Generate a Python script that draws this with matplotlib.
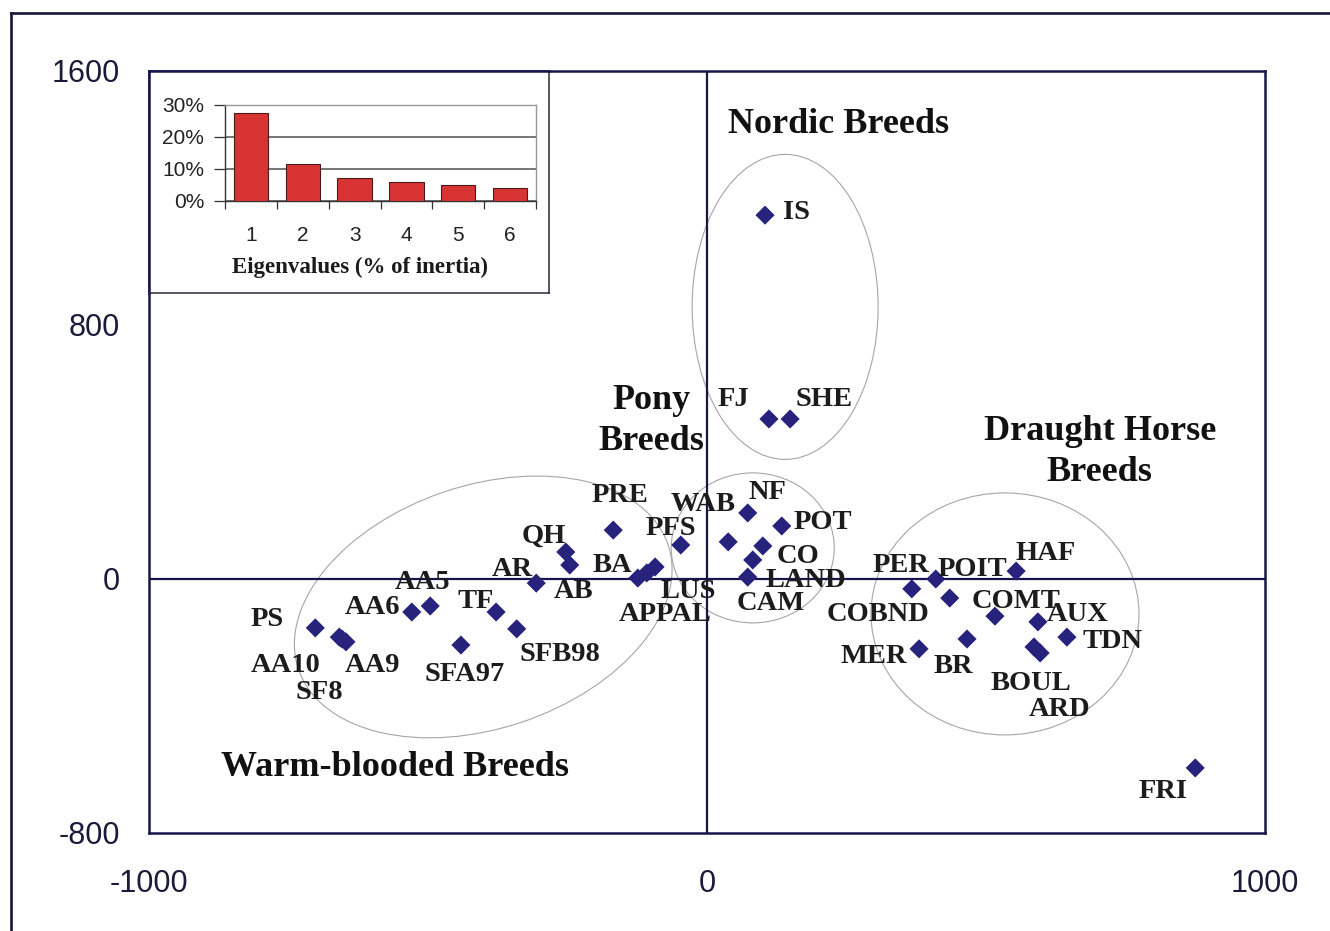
import matplotlib
matplotlib.use("Agg")
import matplotlib.pyplot as plt
import matplotlib.transforms as mtransforms
from matplotlib.patches import Ellipse
from matplotlib.lines import Line2D

# ---------------- data ----------------
breeds = ["IS", "FJ", "SHE", "NF", "POT", "WAB", "CO", "LAND", "CAM", "PFS",
          "PRE", "QH", "AB", "AR", "BA", "APPAL", "LUS", "AA5", "AA6", "TF",
          "SFB98", "SFA97", "PS", "AA10", "SF8", "AA9", "PER", "POIT", "COBND",
          "COMT", "HAF", "AUX", "TDN", "BOUL", "ARD", "BR", "MER", "FRI"]
axis1 = [104, 111, 149, 73, 134, 38, 100, 82, 73, -47,
         -168, -253, -246, -306, -124, -108, -93, -496, -529, -378,
         -341, -441, -702, -659, -654, -647, 367, 410, 435,
         516, 554, 593, 645, 586, 597, 466, 380, 875]
axis2 = [1146, 504, 504, 208, 167, 117, 104, 60, 6, 107,
         154, 85, 44, -13, 3, 19, 38, -85, -104, -104,
         -157, -208, -154, -183, -189, -198, -31, 0, -60,
         -117, 25, -135, -183, -214, -233, -189, -220, -595]

eig_rank = [1, 2, 3, 4, 5, 6]
eig_pct = [27.4, 11.5, 7.3, 5.8, 5.0, 4.2]

x_ticks = [-1000, 0, 1000]
y_ticks = [-800, 0, 800, 1600]
eig_yticks = [0, 10, 20, 30]

# label offsets (pixels) relative to each marker
label_off = {
    "IS": (31, 6), "FJ": (-36, 22), "SHE": (34, 22), "NF": (20, 23),
    "POT": (41, 6), "WAB": (-25, 40), "CO": (35, -8), "LAND": (53, -18),
    "CAM": (23, -24), "PFS": (-10, 19), "PRE": (7, 38), "QH": (-22, 19),
    "AB": (4, -24), "AR": (-24, 17), "BA": (-25, 15), "APPAL": (18, -39),
    "LUS": (33, -22), "AA5": (-8, 26), "AA6": (-39, 7), "TF": (-20, 13),
    "SFB98": (43, -23), "SFA97": (4, -27), "PS": (-48, 11), "AA10": (-54, -26),
    "SF8": (-23, -51), "AA9": (27, -21), "PER": (-11, 26), "POIT": (37, 12),
    "COBND": (-72, -14), "COMT": (21, 18), "HAF": (29, 20), "AUX": (40, 10),
    "TDN": (46, -2), "BOUL": (-3, -34), "ARD": (19, -54), "BR": (-14, -25),
    "MER": (-45, -5), "FRI": (-32, -21),
}

# group ellipses: centre (data), width/height (pixels), angle (deg)
groups = [
    ((140, 857), 186, 305, 0),
    ((82, 98), 163, 150, 0),
    ((-401, -88), 390, 243, 18.6),
    ((534, -110), 268, 242, 0),
]
group_titles = [
    ("Nordic Breeds", (235, 1430)),
    ("Pony\nBreeds", (-100, 498)),
    ("Draught Horse\nBreeds", (704, 400)),
    ("Warm-blooded Breeds", (-559, -595)),
]

# ---------------- style ----------------
W, H = 1330, 931
NAVY = "#16164a"
MARK = "#27237d"
TXT = "#1c1c1c"
SERIF = "Liberation Serif"
SANS = "Liberation Sans"

fig = plt.figure(figsize=(W / 100, H / 100), dpi=100)
fig.patch.set_facecolor("white")

# outer frame (left and top only)
fig.add_artist(Line2D([11 / W, 11 / W], [0, 1 - 13 / H], color="#15153a", lw=1.9))
fig.add_artist(Line2D([11 / W, 1], [1 - 13 / H, 1 - 13 / H], color="#15153a", lw=1.9))

ax = fig.add_axes([149 / W, 1 - 833 / H, 1116 / W, 762 / H])
ax.set_xlim(-1000, 1000)
ax.set_ylim(-800, 1600)
for s in ax.spines.values():
    s.set_color(NAVY)
    s.set_linewidth(1.8)
ax.set_xticks(x_ticks)
ax.set_yticks(y_ticks)
ax.set_xticklabels([str(v) for v in x_ticks])
ax.set_yticklabels([str(v) for v in y_ticks])
ax.tick_params(axis="both", length=0, labelsize=22, labelcolor="#1a1a3a")
ax.tick_params(axis="y", pad=21)
ax.tick_params(axis="x", pad=26)
for t in ax.get_xticklabels() + ax.get_yticklabels():
    t.set_fontfamily(SANS)

ax.axhline(0, color=NAVY, lw=1.6, zorder=2)
ax.axvline(0, color=NAVY, lw=1.6, zorder=2)

for (c, w, h, ang) in groups:
    tr = mtransforms.Affine2D() + mtransforms.ScaledTranslation(c[0], c[1], ax.transData)
    e = Ellipse((0, 0), w, h, angle=ang, transform=tr, fill=False,
                edgecolor="#a6a6a6", lw=0.8, zorder=1)
    ax.add_patch(e)

ax.scatter(axis1, axis2, marker="D", s=95, color=MARK, edgecolors="none", zorder=4)

lab_fs = 20.5
em_px = lab_fs * 100 / 72
for name, x, y in zip(breeds, axis1, axis2):
    dx, dy = label_off[name]
    ax.annotate(name, (x, y), xytext=(dx, dy - 0.33 * em_px), textcoords="offset pixels",
                ha="center", va="baseline", fontsize=lab_fs, fontweight="bold",
                family=SERIF, color=TXT, zorder=5)

for text, (gx, gy) in group_titles:
    ax.text(gx, gy, text, ha="center", va="center", fontsize=26, fontweight="bold",
            family=SERIF, color="#111111", linespacing=1.3, zorder=5)

# ---------------- inset ----------------
box = fig.add_axes([149 / W, 1 - 293 / H, 400 / W, 222 / H])
box.set_xticks([])
box.set_yticks([])
box.set_facecolor("white")
for k, s in box.spines.items():
    s.set_color(NAVY if k in ("left", "top") else "#2a2a3a")
    s.set_linewidth(1.8 if k in ("left", "top") else 1.1)

bx = fig.add_axes([225 / W, 1 - 201 / H, 311 / W, 96 / H])
bx.bar(eig_rank, eig_pct, width=0.66, color="#d93434", edgecolor="#4a1a1a",
       linewidth=0.8, zorder=3)
bx.set_xlim(0.5, 6.5)
bx.set_ylim(0, 30)
bx.set_yticks(eig_yticks)
bx.set_yticklabels([f"{v}%" for v in eig_yticks])
bx.set_xticks(eig_rank)
bx.set_xticklabels([str(v) for v in eig_rank])
bx.set_xticks([r - 0.5 for r in eig_rank] + [eig_rank[-1] + 0.5], minor=True)
bx.tick_params(axis="x", which="major", length=0, pad=18, labelsize=15)
bx.tick_params(axis="x", which="minor", length=6, width=0.9, color="#333333")
bx.tick_params(axis="y", length=8, width=0.9, color="#333333", pad=7, labelsize=15)
for t in bx.get_xticklabels() + bx.get_yticklabels():
    t.set_fontfamily(SANS)
    t.set_color("#222222")
bx.yaxis.grid(True, color="#505050", lw=1.1, zorder=0)
bx.set_axisbelow(True)
bx.spines["top"].set_color("#9a9a9a")
bx.spines["right"].set_color("#9a9a9a")
bx.spines["left"].set_color("#333333")
bx.spines["bottom"].set_color("#333333")
for s in bx.spines.values():
    s.set_linewidth(1.0)

fig.text(360 / W, 1 - 267 / H, "Eigenvalues (% of inertia)", ha="center", va="center",
         fontsize=16.5, fontweight="bold", family=SERIF, color="#1a1a1a")

fig.savefig("out.png", dpi=100, facecolor="white")
